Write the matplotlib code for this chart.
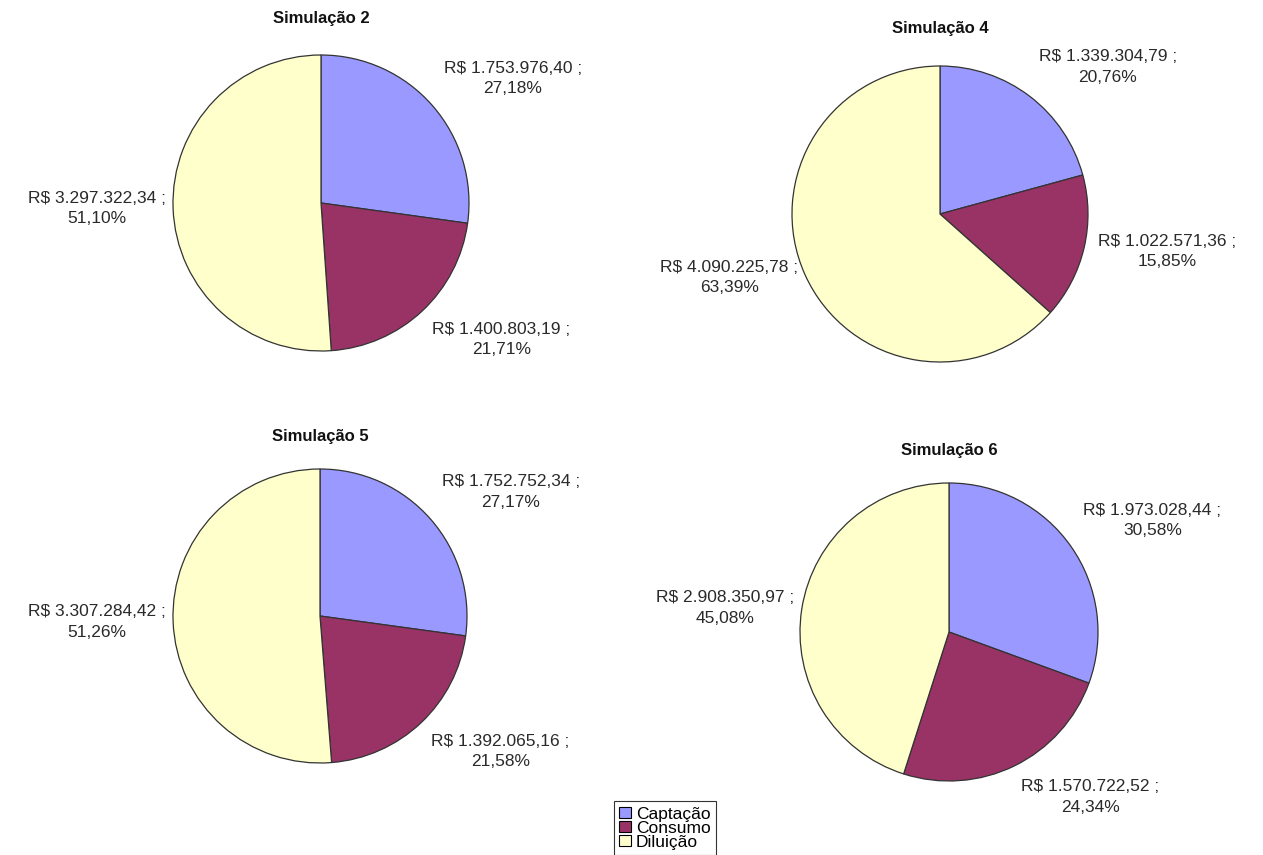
import numpy as np
import matplotlib
matplotlib.use("Agg")
from matplotlib import pyplot as plt
from matplotlib.patches import Patch

plt.rcParams['font.family'] = ['Liberation Sans', 'DejaVu Sans']

# data
categories = ['Captação', 'Consumo', 'Diluição']
titles = ['Simulação 2', 'Simulação 4', 'Simulação 5', 'Simulação 6']
values_sim2 = [1753976.40, 1400803.19, 3297322.34]
values_sim4 = [1339304.79, 1022571.36, 4090225.78]
values_sim5 = [1752752.34, 1392065.16, 3307284.42]
values_sim6 = [1973028.44, 1570722.52, 2908350.97]
all_values = [values_sim2, values_sim4, values_sim5, values_sim6]

colors = ['#9999FF', '#993366', '#FFFFCC']

W, H = 1263, 855
# pie centre (px), radius (px), title gap (px)
layout = [(321, 203, 148, 37), (940, 214, 148, 37),
          (320, 616, 147, 33), (949, 632, 149, 33)]


def br_money(v):
    s = '{:,.2f}'.format(v)
    return s.replace(',', 'X').replace('.', ',').replace('X', '.')


def br_pct(p):
    return '{:.2f}%'.format(p).replace('.', ',')


fig = plt.figure(figsize=(W / 100, H / 100), dpi=100)
fig.patch.set_facecolor('white')

for vals, title, (cx, cy, r, gap) in zip(all_values, titles, layout):
    ax = fig.add_axes([(cx - r) / W, 1 - (cy + r) / H, 2 * r / W, 2 * r / H])
    wedges, _ = ax.pie(vals, colors=colors, startangle=90, counterclock=False,
                       wedgeprops=dict(edgecolor='#333333', linewidth=0.9))
    ax.set_xlim(-1, 1)
    ax.set_ylim(-1, 1)
    ax.set_aspect('equal')
    ax.axis('off')

    total = sum(vals)
    for w, v in zip(wedges, vals):
        mid = np.deg2rad((w.theta1 + w.theta2) / 2)
        c, s = np.cos(mid), np.sin(mid)
        ha = 'left' if c > 0.3 else ('right' if c < -0.3 else 'center')
        va = 'bottom' if s > 0.5 else ('top' if s < -0.5 else 'center')
        d = 1.05 if ha == 'right' else 1.1
        txt = 'R$ {} ;\n{}'.format(br_money(v), br_pct(100 * v / total))
        ax.text(d * c, d * s, txt, ha=ha, va=va, multialignment='center',
                fontsize=12.5, color='#2a2a2a', linespacing=1.45, clip_on=False)

    ax.text(0, 1 + gap / r, title, ha='center', va='center',
            fontsize=12, fontweight='bold', color='#111111', clip_on=False)

handles = [Patch(facecolor=col, edgecolor='black', linewidth=0.8) for col in colors]
leg = fig.legend(handles, categories, loc='lower center',
                 bbox_to_anchor=(665 / W, 0.0), fontsize=12.5,
                 frameon=True, fancybox=False, edgecolor='black',
                 handlelength=0.65, handleheight=0.65, handletextpad=0.3,
                 labelspacing=-0.05, borderpad=0.3, borderaxespad=0.0)
leg.get_frame().set_linewidth(0.8)

fig.savefig('out.png', dpi=100, facecolor='white')
